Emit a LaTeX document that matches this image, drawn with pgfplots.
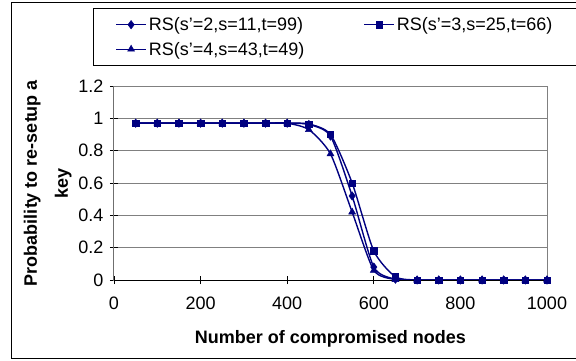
\documentclass[border=0pt]{standalone}
\usepackage{pgfplots}
\pgfplotsset{compat=1.18}
\usepackage{fontspec}
\setmainfont{Liberation Sans}
\definecolor{navy}{RGB}{0,0,128}
\begin{document}
\begin{tikzpicture}[x=1pt,y=1pt]
\path[use as bounding box] (0,0) rectangle (576,360);
\draw[black, line width=1pt] (576,358) -- (11,358) -- (11,2) -- (576,2);
\begin{axis}[
  at={(114pt,80pt)}, anchor=south west,
  scale only axis, width=433pt, height=194pt,
  xmin=0, xmax=1000, ymin=0, ymax=1.2,
  xtick={0,200,...,1000},
  ytick={0,0.2,0.4,0.6,0.8,1,1.2},
  yticklabels={0,0.2,0.4,0.6,0.8,1,1.2},
  xticklabel style={/pgf/number format/1000 sep={}, yshift=-9pt},
  xtick pos=left, ytick pos=left,
  tick align=center, major tick length=8pt,
  tick style={black, line width=0.8pt},
  axis line style={gray, line width=1pt},
  ymajorgrids, major grid style={gray, line width=0.8pt},
  font=\fontsize{18}{21}\selectfont,
  /pgf/number format/assume math mode=true,
  yticklabel style={xshift=-3pt},
  xlabel={\bfseries Number of compromised nodes},
  xlabel style={yshift=-14pt},
  ylabel={\bfseries\begin{tabular}{c}Probability to re-setup a\\[10pt] key\end{tabular}},
  ylabel style={yshift=-2.5pt},
  legend columns=2,
  legend cell align=left,
  legend style={at={(axis description cs:-0.0485,1.402)}, anchor=north west,
    draw=black, line width=0.8pt, inner xsep=22pt, inner ysep=7pt,
    font=\fontsize{18}{21}\selectfont, row sep=6pt,
    /tikz/column 2/.style={column sep=57pt}},
  legend image code/.code={\draw[mark repeat=2,mark phase=2,#1] plot coordinates {(0pt,0pt) (15pt,0pt) (30pt,0pt)};},
  every axis plot/.append style={navy, line width=1.4pt, smooth, tension=0.4, mark options={solid, fill=navy, line width=0.5pt}},
]
\addplot[mark=diamond*, mark size=4.2pt] coordinates {
(50,0.97)(100,0.97)(150,0.97)(200,0.97)(250,0.97)(300,0.97)(350,0.97)(400,0.97)
(450,0.962)(500,0.89)(550,0.52)(600,0.08)(650,0.005)(700,0)(750,0)(800,0)(850,0)(900,0)(950,0)(1000,0)};
\addlegendentry{RS(s'=2,s=11,t=99)}
\addplot[mark=square*, mark size=3.2pt] coordinates {
(50,0.97)(100,0.97)(150,0.97)(200,0.97)(250,0.97)(300,0.97)(350,0.97)(400,0.97)
(450,0.965)(500,0.90)(550,0.60)(600,0.18)(650,0.02)(700,0)(750,0)(800,0)(850,0)(900,0)(950,0)(1000,0)};
\addlegendentry{RS(s'=3,s=25,t=66)}
\addplot[mark=triangle*, mark size=4pt] coordinates {
(50,0.97)(100,0.97)(150,0.97)(200,0.97)(250,0.97)(300,0.97)(350,0.97)(400,0.97)
(450,0.93)(500,0.78)(550,0.42)(600,0.06)(650,0.003)(700,0)(750,0)(800,0)(850,0)(900,0)(950,0)(1000,0)};
\addlegendentry{RS(s'=4,s=43,t=49)}
\draw[black, line width=1pt] (rel axis cs:0,1) -- (rel axis cs:0,0) -- (rel axis cs:1,0);
\end{axis}
\end{tikzpicture}
\end{document}
